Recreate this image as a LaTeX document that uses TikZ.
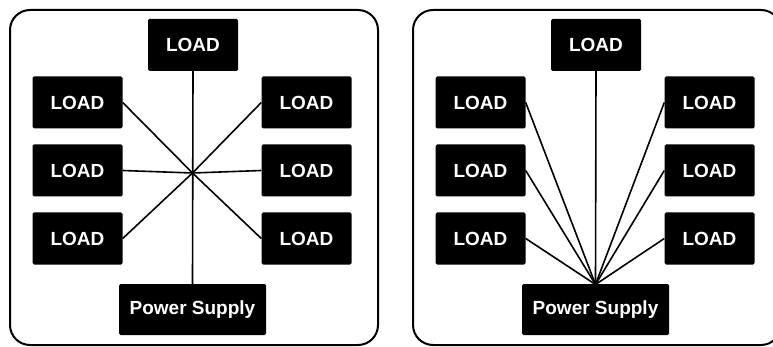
\documentclass[tikz,border=0pt]{standalone}
\usepackage{fontspec}
\setsansfont{Liberation Sans}

\begin{document}
\begin{tikzpicture}[x=1pt, y=-1pt,
    panel/.style={draw, line width=2pt, rounded corners=20pt},
    load/.style={fill=black, text=white, rounded corners=1.5pt, inner sep=0pt,
        minimum width=90pt, minimum height=52pt,
        font=\sffamily\bfseries\fontsize{19}{22}\selectfont},
    supply/.style={load, minimum width=147pt, minimum height=51pt},
    wire/.style={line width=1.6pt}]
    \useasboundingbox (0,0) rectangle (773,347);

    % star wiring on the left, everything back to the supply on the right
    \foreach \p/\dx/\hy in {a/0/173, b/403/284.5} {
        \begin{scope}[xshift=\dx]
            \draw[panel] (10,10) rectangle (378,345);
            \node[load] (\p top) at (193,45) {LOAD};
            \node[supply] (\p ps) at (192.5,309.5) {Power Supply};
            \coordinate (\p hub) at (192.5,\hy);
            \foreach \y [count=\n] in {102.5,170.5,238.5} {
                \node[load] (\p l\n) at (77.5,\y) {LOAD};
                \node[load] (\p r\n) at (306.5,\y) {LOAD};
                \draw[wire] (\p l\n.east) -- (\p hub);
                \draw[wire] (\p r\n.west) -- (\p hub);
            }
            \draw[wire] (\p top.south) -- (\p ps.north);
        \end{scope}
    }
\end{tikzpicture}
\end{document}
